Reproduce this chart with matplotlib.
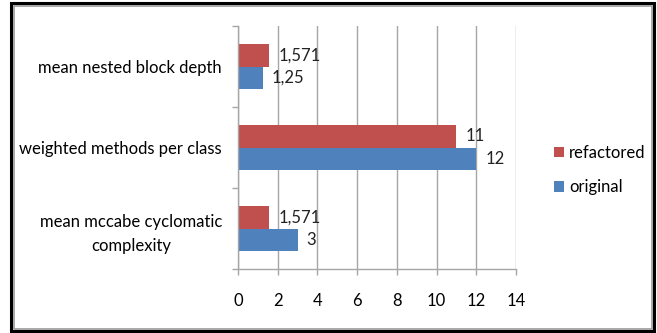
import numpy as np
import matplotlib
matplotlib.use("Agg")
import matplotlib.pyplot as plt
from matplotlib.patches import Rectangle

# metrics, bottom to top
metrics = ["mean mccabe cyclomatic\ncomplexity", "weighted methods per class", "mean nested block depth"]
original = [3, 12, 1.25]
refactored = [1.571, 11, 1.571]
original_labels = ["3", "12", "1,25"]
refactored_labels = ["1,571", "11", "1,571"]
x_ticks = [0, 2, 4, 6, 8, 10, 12, 14]

RED = "#C0504D"
BLUE = "#4F81BD"
GRID = "#A6A6A6"
FS = 12

plt.rcParams["font.family"] = ["Lato", "DejaVu Sans"]

fig = plt.figure(figsize=(6.57, 3.33), dpi=100)
ax = fig.add_axes([238 / 657, 1 - 269 / 333, 278 / 657, 243 / 333])

y = np.arange(len(metrics))
h = 0.28
b_orig = ax.barh(y - h / 2, original, height=h, color=BLUE, label="original")
b_ref = ax.barh(y + h / 2, refactored, height=h, color=RED, label="refactored")

for bars, labels in ((b_orig, original_labels), (b_ref, refactored_labels)):
    for bar, lab in zip(bars, labels):
        ax.annotate(lab, (bar.get_width(), bar.get_y() + bar.get_height() / 2),
                    xytext=(6.5, 0), textcoords="offset points",
                    va="center", ha="left", fontsize=FS, color="#222222")

ax.set_xlim(0, 14)
ax.set_ylim(-0.5, 2.5)
ax.set_xticks(x_ticks)
ax.set_yticks(y)
ax.set_yticklabels(metrics, fontsize=FS, ha="right", multialignment="center",
                   linespacing=1.6)
ax.tick_params(axis="y", which="major", length=0, pad=11.5)
ax.set_yticks([-0.5, 0.5, 1.5, 2.5], minor=True)
ax.tick_params(axis="y", which="minor", length=4, color=GRID, width=1)
ax.tick_params(axis="x", length=4, color=GRID, width=1, pad=13, labelsize=FS)

ax.grid(axis="x", color=GRID, linewidth=1)
ax.set_axisbelow(True)
for side in ("top", "right"):
    ax.spines[side].set_visible(False)
for side in ("left", "bottom"):
    ax.spines[side].set_color(GRID)
    ax.spines[side].set_linewidth(1)

handles = [b_ref, b_orig]
fig.legend(handles, ["refactored", "original"], loc="center left",
           bbox_to_anchor=(539 / 657, 1 - 170 / 333), frameon=False,
           fontsize=FS, handlelength=0.6, handleheight=0.6,
           handletextpad=0.3, labelspacing=1.1)

# frame around the chart
fig.patches.append(Rectangle((11 / 657, 2 / 333), 643 / 657, 328 / 333,
                             transform=fig.transFigure, fill=False,
                             edgecolor="black", linewidth=2.2))
fig.patches.append(Rectangle((13.5 / 657, 4.5 / 333), 638 / 657, 323 / 333,
                             transform=fig.transFigure, fill=False,
                             edgecolor="#999999", linewidth=1.2))

fig.savefig("out.png", dpi=100)
